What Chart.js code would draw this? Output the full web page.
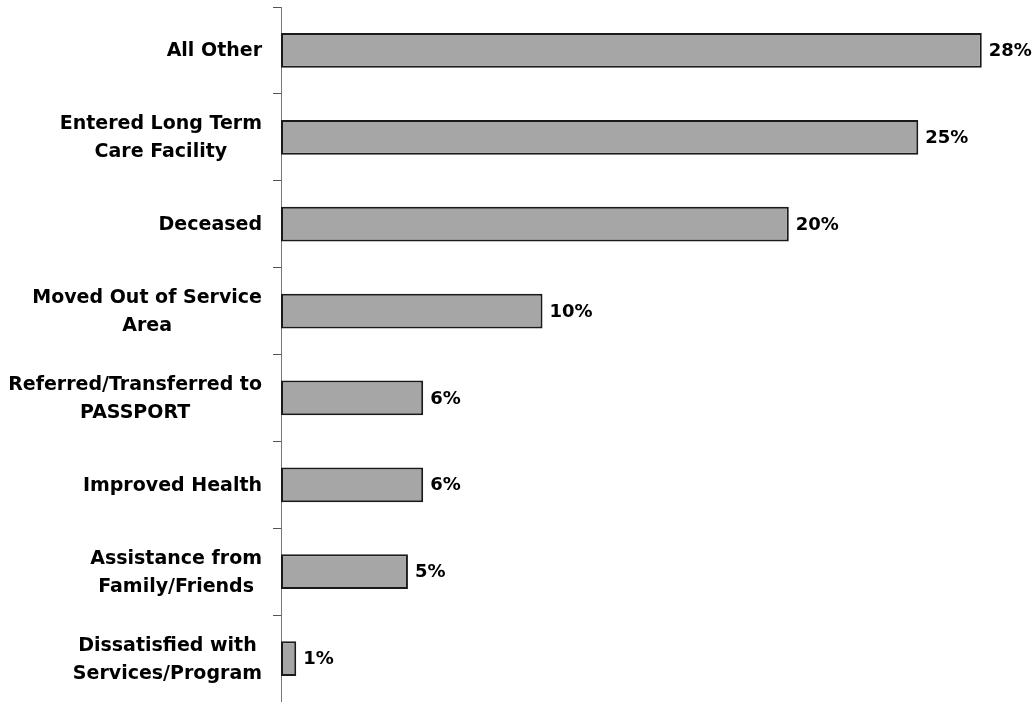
<!DOCTYPE html>
<html>
<head>
<meta charset="utf-8">
<script src="https://cdn.jsdelivr.net/npm/chart.js@4.4.1/dist/chart.umd.min.js"></script>
<style>
  html, body { margin: 0; padding: 0; background: #fff; }
  #wrap { width: 1036px; height: 702px; position: relative; }
</style>
</head>
<body>
<div id="wrap"><canvas id="motivosChart"></canvas></div>
<script>
// Dados do gráfico
const categorias = [
    ['All Other'],
    ['Entered Long Term', 'Care Facility'],
    ['Deceased'],
    ['Moved Out of Service', 'Area'],
    ['Referred/Transferred to', 'PASSPORT'],
    ['Improved Health'],
    ['Assistance from', 'Family/Friends'],
    ['Dissatisfied with', 'Services/Program']
];
const valores = [27.6, 25.1, 20.0, 10.3, 5.6, 5.6, 5.0, 0.6];
const rotulos = ['28%', '25%', '20%', '10%', '6%', '6%', '5%', '1%'];

const fonteCategorias = 'bold 19px "DejaVu Sans", sans-serif';
const fonteValores = 'bold 18px "DejaVu Sans", sans-serif';

// Plugin para desenhar os rótulos das categorias (bloco alinhado à direita, linhas centralizadas)
const rotulosCategorias = {
    id: 'rotulosCategorias',
    afterDraw(chart) {
        const ctx = chart.ctx;
        const y = chart.scales.y;
        const xDireita = 262;
        const alturaLinha = 28;
        ctx.save();
        ctx.font = fonteCategorias;
        ctx.fillStyle = '#000';
        ctx.textAlign = 'center';
        ctx.textBaseline = 'middle';
        categorias.forEach((linhas, i) => {
            const largura = Math.max(...linhas.map(l => ctx.measureText(l).width));
            const cx = xDireita - largura / 2;
            const cy = y.getPixelForValue(i) + 1;
            const inicio = cy - (linhas.length - 1) * alturaLinha / 2;
            linhas.forEach((l, j) => ctx.fillText(l, cx, inicio + j * alturaLinha));
        });
        ctx.restore();
    }
};

// Plugin para os valores no fim das barras
const rotulosValores = {
    id: 'rotulosValores',
    afterDatasetsDraw(chart) {
        const ctx = chart.ctx;
        const meta = chart.getDatasetMeta(0);
        ctx.save();
        ctx.font = fonteValores;
        ctx.fillStyle = '#000';
        ctx.textAlign = 'left';
        ctx.textBaseline = 'middle';
        meta.data.forEach((barra, i) => {
            ctx.fillText(rotulos[i], barra.x + 7, barra.y + 1);
        });
        ctx.restore();
    }
};

const ctx = document.getElementById('motivosChart').getContext('2d');
const chart = new Chart(ctx, {
    type: 'bar',
    data: {
        labels: categorias,
        datasets: [{
            data: valores,
            backgroundColor: '#a6a6a6',
            borderColor: '#1a1a1a',
            borderWidth: 2,
            borderSkipped: false,
            barPercentage: 0.4,
            categoryPercentage: 1
        }]
    },
    options: {
        indexAxis: 'y',
        responsive: true,
        maintainAspectRatio: false,
        animation: false,
        layout: { padding: { top: 7, right: 6, bottom: -3, left: 0 } },
        plugins: {
            legend: { display: false },
            tooltip: { enabled: false }
        },
        scales: {
            x: {
                display: false,
                min: 0,
                max: 29.5
            },
            y: {
                afterFit(scale) { scale.width = 281; },
                grid: {
                    offset: true,
                    drawOnChartArea: false,
                    drawTicks: true,
                    tickLength: 8,
                    color: '#555'
                },
                border: { display: true, color: '#777', width: 1 },
                ticks: { display: false }
            }
        }
    },
    plugins: [rotulosCategorias, rotulosValores]
});
</script>
</body>
</html>
